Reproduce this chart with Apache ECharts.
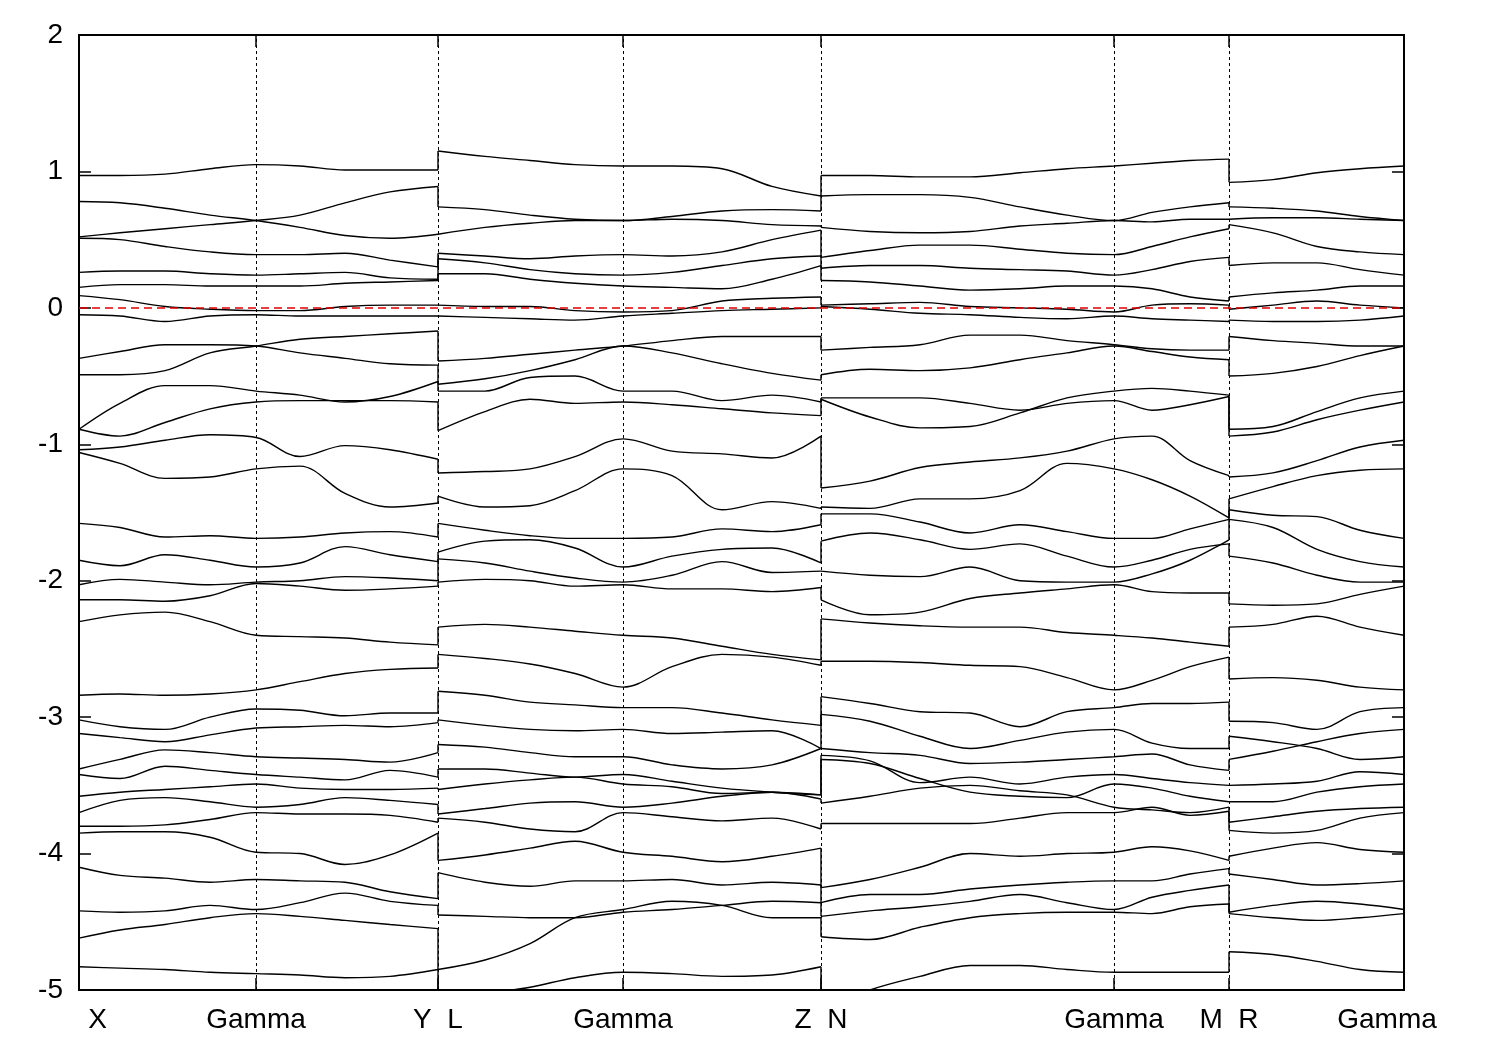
<!DOCTYPE html>
<html><head><meta charset="utf-8">
<script src="https://cdn.jsdelivr.net/npm/echarts@6/dist/echarts.min.js"></script>
<style>html,body{margin:0;padding:0;background:#fff}#c{width:1500px;height:1050px}</style>
</head><body><div id="c"></div>
<script>
// k-path distances of sampled points per continuous segment
const kSeg1 = [0, 41, 86, 131, 177, 221, 266, 311, 359];          // X - Gamma - Y
const kSeg2 = [359, 406, 451, 496, 544, 593, 643, 693, 742];      // L - Gamma - Z
const kSeg3 = [742, 791, 841, 891, 941, 988, 1035, 1073, 1111, 1150]; // N - Gamma - M
const kSeg4 = [1150, 1194, 1238, 1281, 1325];                     // R - Gamma

// high-symmetry points and their labels
const kPoints = [0, 177, 359, 544, 742, 1035, 1150, 1325];
const kLabels = ['X', 'Gamma', 'Y  L', 'Gamma', 'Z  N', 'Gamma', 'M  R', 'Gamma'];
const yTicks = [-5, -4, -3, -2, -1, 0, 1, 2];
const fermiLevel = 0;

// band energies (eV) per segment
const bandsSeg1 = [
  [0.97, 0.97, 0.98, 1.02, 1.05, 1.04, 1.01, 1.01, 1.01],
  [0.78, 0.77, 0.73, 0.68, 0.64, 0.59, 0.53, 0.51, 0.54],
  [0.52, 0.55, 0.58, 0.61, 0.64, 0.68, 0.77, 0.85, 0.89],
  [0.51, 0.50, 0.45, 0.41, 0.39, 0.39, 0.40, 0.35, 0.30],
  [0.26, 0.27, 0.27, 0.25, 0.24, 0.25, 0.26, 0.22, 0.21],
  [0.15, 0.17, 0.17, 0.16, 0.16, 0.16, 0.18, 0.19, 0.20],
  [0.09, 0.06, 0.01, -0.01, -0.02, -0.02, 0.01, 0.02, 0.02],
  [-0.05, -0.06, -0.10, -0.06, -0.05, -0.06, -0.06, -0.06, -0.06],
  [-0.37, -0.32, -0.27, -0.27, -0.28, -0.33, -0.37, -0.41, -0.42],
  [-0.49, -0.49, -0.46, -0.33, -0.28, -0.23, -0.21, -0.19, -0.17],
  [-0.89, -0.70, -0.57, -0.57, -0.61, -0.64, -0.69, -0.65, -0.54],
  [-0.89, -0.94, -0.84, -0.74, -0.69, -0.68, -0.68, -0.68, -0.69],
  [-1.04, -1.02, -0.97, -0.93, -0.95, -1.09, -1.01, -1.04, -1.11],
  [-1.06, -1.14, -1.25, -1.24, -1.18, -1.16, -1.36, -1.46, -1.43],
  [-1.58, -1.61, -1.68, -1.67, -1.69, -1.68, -1.65, -1.64, -1.68],
  [-1.85, -1.89, -1.81, -1.85, -1.90, -1.87, -1.75, -1.81, -1.86],
  [-2.03, -1.99, -2.01, -2.03, -2.01, -2.00, -1.97, -1.98, -2.00],
  [-2.14, -2.14, -2.15, -2.11, -2.02, -2.04, -2.07, -2.06, -2.04],
  [-2.30, -2.25, -2.23, -2.30, -2.40, -2.41, -2.42, -2.45, -2.47],
  [-2.84, -2.83, -2.84, -2.83, -2.80, -2.74, -2.68, -2.65, -2.64],
  [-3.02, -3.07, -3.09, -3.00, -2.94, -2.95, -2.99, -2.97, -2.97],
  [-3.12, -3.15, -3.18, -3.13, -3.08, -3.07, -3.06, -3.07, -3.04],
  [-3.38, -3.31, -3.24, -3.26, -3.29, -3.30, -3.31, -3.33, -3.26],
  [-3.42, -3.45, -3.36, -3.39, -3.42, -3.44, -3.46, -3.39, -3.44],
  [-3.58, -3.55, -3.53, -3.51, -3.49, -3.52, -3.53, -3.53, -3.52],
  [-3.70, -3.61, -3.59, -3.62, -3.66, -3.64, -3.59, -3.61, -3.64],
  [-3.80, -3.80, -3.79, -3.75, -3.70, -3.71, -3.71, -3.72, -3.77],
  [-3.85, -3.84, -3.84, -3.88, -3.99, -4.00, -4.08, -4.01, -3.85],
  [-4.10, -4.16, -4.18, -4.21, -4.19, -4.20, -4.21, -4.28, -4.33],
  [-4.42, -4.43, -4.42, -4.38, -4.41, -4.36, -4.29, -4.35, -4.38],
  [-4.62, -4.56, -4.52, -4.47, -4.44, -4.46, -4.49, -4.52, -4.55],
  [-4.83, -4.84, -4.85, -4.87, -4.88, -4.89, -4.91, -4.90, -4.85]
];
const bandsSeg2 = [
  [1.15, 1.11, 1.08, 1.05, 1.04, 1.04, 1.02, 0.89, 0.82],
  [0.74, 0.72, 0.68, 0.65, 0.64, 0.67, 0.71, 0.72, 0.71],
  [0.54, 0.59, 0.62, 0.64, 0.64, 0.65, 0.64, 0.61, 0.60],
  [0.40, 0.38, 0.36, 0.38, 0.39, 0.38, 0.41, 0.50, 0.57],
  [0.36, 0.33, 0.28, 0.25, 0.24, 0.26, 0.31, 0.36, 0.38],
  [0.25, 0.25, 0.21, 0.18, 0.16, 0.15, 0.14, 0.21, 0.31],
  [0.02, 0.01, 0.01, -0.02, -0.03, -0.02, 0.05, 0.07, 0.08],
  [-0.06, -0.07, -0.08, -0.09, -0.06, -0.04, -0.02, -0.01, 0.00],
  [-0.39, -0.37, -0.34, -0.31, -0.28, -0.24, -0.21, -0.21, -0.21],
  [-0.56, -0.52, -0.46, -0.38, -0.28, -0.33, -0.41, -0.48, -0.53],
  [-0.61, -0.61, -0.51, -0.50, -0.61, -0.61, -0.68, -0.64, -0.69],
  [-0.90, -0.76, -0.67, -0.70, -0.69, -0.71, -0.74, -0.77, -0.79],
  [-1.21, -1.20, -1.18, -1.09, -0.96, -1.05, -1.07, -1.10, -0.94],
  [-1.38, -1.46, -1.45, -1.34, -1.18, -1.23, -1.48, -1.42, -1.47],
  [-1.58, -1.63, -1.67, -1.69, -1.69, -1.68, -1.62, -1.64, -1.59],
  [-1.79, -1.71, -1.70, -1.76, -1.90, -1.82, -1.77, -1.76, -1.87],
  [-1.84, -1.87, -1.93, -1.98, -2.01, -1.96, -1.86, -1.94, -1.93],
  [-2.01, -1.99, -2.00, -2.04, -2.03, -2.06, -2.06, -2.08, -2.05],
  [-2.34, -2.32, -2.34, -2.37, -2.40, -2.42, -2.48, -2.54, -2.58],
  [-2.54, -2.57, -2.61, -2.68, -2.78, -2.63, -2.54, -2.56, -2.62],
  [-2.81, -2.84, -2.89, -2.91, -2.93, -2.93, -2.97, -3.02, -3.06],
  [-3.02, -3.06, -3.09, -3.10, -3.09, -3.12, -3.11, -3.10, -3.23],
  [-3.20, -3.22, -3.26, -3.29, -3.29, -3.35, -3.38, -3.35, -3.23],
  [-3.38, -3.38, -3.41, -3.44, -3.42, -3.47, -3.52, -3.55, -3.57],
  [-3.53, -3.49, -3.46, -3.44, -3.49, -3.51, -3.56, -3.55, -3.57],
  [-3.71, -3.67, -3.63, -3.62, -3.66, -3.63, -3.58, -3.55, -3.60],
  [-3.74, -3.77, -3.82, -3.84, -3.70, -3.73, -3.76, -3.74, -3.82],
  [-4.05, -4.01, -3.96, -3.91, -3.99, -4.02, -4.06, -4.02, -3.96],
  [-4.14, -4.21, -4.24, -4.20, -4.20, -4.19, -4.23, -4.21, -4.23],
  [-4.45, -4.46, -4.47, -4.47, -4.43, -4.41, -4.38, -4.35, -4.36],
  [-4.85, -4.78, -4.66, -4.47, -4.41, -4.35, -4.38, -4.47, -4.47],
  [-5.10, -5.03, -4.98, -4.91, -4.87, -4.88, -4.90, -4.89, -4.83]
];
const bandsSeg3 = [
  [0.97, 0.97, 0.96, 0.96, 0.99, 1.02, 1.04, 1.06, 1.08, 1.09],
  [0.82, 0.83, 0.83, 0.81, 0.74, 0.68, 0.64, 0.70, 0.74, 0.77],
  [0.59, 0.56, 0.55, 0.56, 0.60, 0.62, 0.64, 0.63, 0.65, 0.65],
  [0.37, 0.42, 0.46, 0.46, 0.43, 0.40, 0.39, 0.45, 0.52, 0.58],
  [0.29, 0.31, 0.31, 0.29, 0.28, 0.27, 0.24, 0.28, 0.34, 0.37],
  [0.20, 0.19, 0.16, 0.13, 0.14, 0.16, 0.16, 0.14, 0.08, 0.05],
  [0.02, 0.03, 0.04, 0.01, 0.00, -0.01, -0.03, 0.02, 0.03, 0.02],
  [0.01, -0.01, -0.04, -0.05, -0.07, -0.08, -0.06, -0.08, -0.09, -0.10],
  [-0.31, -0.29, -0.27, -0.20, -0.20, -0.24, -0.27, -0.30, -0.31, -0.31],
  [-0.49, -0.45, -0.46, -0.44, -0.38, -0.33, -0.28, -0.32, -0.36, -0.38],
  [-0.66, -0.66, -0.66, -0.70, -0.75, -0.70, -0.68, -0.75, -0.71, -0.65],
  [-0.67, -0.80, -0.88, -0.87, -0.77, -0.66, -0.61, -0.59, -0.61, -0.64],
  [-1.32, -1.27, -1.17, -1.13, -1.10, -1.05, -0.96, -0.94, -1.12, -1.23],
  [-1.46, -1.47, -1.40, -1.40, -1.34, -1.14, -1.18, -1.26, -1.38, -1.54],
  [-1.51, -1.51, -1.57, -1.65, -1.59, -1.64, -1.69, -1.69, -1.62, -1.55],
  [-1.71, -1.65, -1.70, -1.77, -1.73, -1.82, -1.90, -1.85, -1.77, -1.73],
  [-1.93, -1.96, -1.97, -1.90, -2.00, -2.01, -2.01, -1.95, -1.85, -1.70],
  [-2.14, -2.25, -2.23, -2.13, -2.09, -2.06, -2.03, -2.08, -2.09, -2.09],
  [-2.28, -2.31, -2.33, -2.34, -2.34, -2.38, -2.40, -2.42, -2.45, -2.48],
  [-2.59, -2.59, -2.60, -2.62, -2.63, -2.71, -2.80, -2.73, -2.63, -2.56],
  [-2.85, -2.90, -2.96, -2.97, -3.07, -2.96, -2.93, -2.90, -2.90, -2.89],
  [-2.98, -3.03, -3.14, -3.23, -3.17, -3.11, -3.09, -3.19, -3.23, -3.23],
  [-3.23, -3.26, -3.28, -3.34, -3.33, -3.31, -3.29, -3.27, -3.35, -3.39],
  [-3.28, -3.32, -3.48, -3.44, -3.49, -3.44, -3.42, -3.45, -3.48, -3.50],
  [-3.31, -3.34, -3.45, -3.55, -3.58, -3.59, -3.49, -3.52, -3.58, -3.62],
  [-3.63, -3.58, -3.52, -3.50, -3.54, -3.57, -3.66, -3.68, -3.70, -3.66],
  [-3.78, -3.78, -3.78, -3.78, -3.74, -3.70, -3.70, -3.66, -3.72, -3.69],
  [-4.25, -4.19, -4.10, -4.00, -4.02, -4.00, -3.99, -3.95, -3.98, -4.05],
  [-4.36, -4.30, -4.30, -4.26, -4.23, -4.21, -4.20, -4.20, -4.15, -4.11],
  [-4.46, -4.42, -4.39, -4.35, -4.30, -4.36, -4.41, -4.32, -4.27, -4.23],
  [-4.61, -4.63, -4.54, -4.47, -4.44, -4.43, -4.43, -4.44, -4.39, -4.37],
  [-5.15, -5.00, -4.90, -4.82, -4.82, -4.85, -4.87, -4.87, -4.87, -4.87]
];
const bandsSeg4 = [
  [0.92, 0.94, 0.99, 1.02, 1.04],
  [0.74, 0.73, 0.71, 0.67, 0.64],
  [0.65, 0.66, 0.66, 0.65, 0.64],
  [0.61, 0.55, 0.45, 0.41, 0.39],
  [0.31, 0.33, 0.33, 0.28, 0.24],
  [0.08, 0.11, 0.13, 0.16, 0.16],
  [-0.01, 0.02, 0.05, 0.02, 0.00],
  [-0.09, -0.10, -0.10, -0.09, -0.06],
  [-0.21, -0.24, -0.26, -0.28, -0.28],
  [-0.50, -0.48, -0.43, -0.35, -0.28],
  [-0.89, -0.87, -0.76, -0.66, -0.61],
  [-0.94, -0.91, -0.82, -0.75, -0.69],
  [-1.24, -1.21, -1.12, -1.02, -0.97],
  [-1.40, -1.31, -1.23, -1.19, -1.18],
  [-1.48, -1.52, -1.53, -1.63, -1.69],
  [-1.55, -1.61, -1.77, -1.86, -1.90],
  [-1.82, -1.87, -1.96, -2.01, -2.01],
  [-2.17, -2.18, -2.17, -2.10, -2.04],
  [-2.34, -2.32, -2.26, -2.34, -2.40],
  [-2.72, -2.71, -2.73, -2.78, -2.80],
  [-3.03, -3.04, -3.09, -2.96, -2.93],
  [-3.14, -3.18, -3.23, -3.31, -3.29],
  [-3.31, -3.25, -3.18, -3.12, -3.09],
  [-3.50, -3.49, -3.47, -3.40, -3.42],
  [-3.62, -3.62, -3.55, -3.51, -3.49],
  [-3.77, -3.73, -3.69, -3.67, -3.66],
  [-3.83, -3.85, -3.83, -3.74, -3.70],
  [-4.02, -3.96, -3.92, -3.97, -3.99],
  [-4.15, -4.19, -4.23, -4.22, -4.20],
  [-4.43, -4.38, -4.35, -4.37, -4.41],
  [-4.44, -4.47, -4.49, -4.47, -4.44],
  [-4.72, -4.74, -4.79, -4.85, -4.87]
];

const segments = [
  { k: kSeg1, bands: bandsSeg1 },
  { k: kSeg2, bands: bandsSeg2 },
  { k: kSeg3, bands: bandsSeg3 },
  { k: kSeg4, bands: bandsSeg4 }
];

const FONT = 'Liberation Sans, Arial, Helvetica, sans-serif';
const series = [];
const mkBandStyle = () => ({ color: '#000', width: 1.4 });

segments.forEach(seg => {
  seg.bands.forEach(band => {
    series.push({
      type: 'line', data: band.map((v, i) => [seg.k[i], v]),
      smooth: 0.35, symbol: 'none', silent: true, animation: false,
      lineStyle: mkBandStyle(), z: 3
    });
  });
});

// vertical jumps at discontinuities of the path
for (let s = 0; s < segments.length - 1; s++) {
  const a = segments[s], b = segments[s + 1];
  const kx = a.k[a.k.length - 1];
  const ends = a.bands.map(r => r[r.length - 1]).sort((p, q) => q - p);
  const starts = b.bands.map(r => r[0]).sort((p, q) => q - p);
  const n = Math.min(ends.length, starts.length);
  for (let i = 0; i < n; i++) {
    series.push({
      type: 'line', data: [[kx, ends[i]], [kx, starts[i]]],
      symbol: 'none', silent: true, animation: false, lineStyle: mkBandStyle(), z: 3
    });
  }
}

// dotted verticals at high-symmetry points
series.push({
  type: 'line', data: [], silent: true, animation: false, z: 2,
  markLine: {
    symbol: 'none', silent: true, animation: false, label: { show: false },
    lineStyle: { color: '#000', type: [3, 3], width: 1 },
    data: kPoints.slice(1, -1).map(k => ({ xAxis: k }))
  }
});
// Fermi level
series.push({
  type: 'line', data: [], silent: true, animation: false, z: 5,
  markLine: {
    symbol: 'none', silent: true, animation: false, label: { show: false },
    lineStyle: { color: '#e00000', type: [8, 5], width: 1.5 },
    data: [{ yAxis: fermiLevel }]
  }
});

const labelFmt = (v) => {
  const i = kPoints.indexOf(v);
  if (i < 0) return '';
  if (i === 0) return '{first|' + kLabels[i] + '}';
  if (i === kPoints.length - 1) return '{last|' + kLabels[i] + '}';
  return kLabels[i];
};
const richBase = () => ({ fontSize: 28, fontFamily: FONT, color: '#000' });
const mkTick = (custom) => {
  const t = { show: true, inside: true, length: 12, lineStyle: { color: '#000', width: 1.5 } };
  if (custom) t.customValues = custom;
  return t;
};
const mkLine = () => ({ show: true, onZero: false, lineStyle: { color: '#000', width: 2 } });

const option = {
  backgroundColor: '#fff',
  animation: false,
  grid: { left: 79, right: 96, top: 35, bottom: 60, show: true, borderColor: '#000', borderWidth: 2, backgroundColor: 'transparent' },
  xAxis: [
    {
      type: 'value', min: 0, max: 1325, position: 'bottom',
      axisLine: mkLine(), splitLine: { show: false },
      axisTick: mkTick(kPoints),
      axisLabel: {
        customValues: kPoints, formatter: labelFmt, margin: 16,
        fontSize: 28, fontFamily: FONT, color: '#000', showMinLabel: true, showMaxLabel: true,
        rich: {
          first: Object.assign({ padding: [0, 0, 0, 37] }, richBase()),
          last: Object.assign({ padding: [0, 34, 0, 0] }, richBase())
        }
      }
    },
    {
      type: 'value', min: 0, max: 1325, position: 'top',
      axisLine: mkLine(), splitLine: { show: false },
      axisTick: mkTick(kPoints),
      axisLabel: { show: false }
    }
  ],
  yAxis: [
    {
      type: 'value', min: -5, max: 2, interval: 1, position: 'left',
      axisLine: mkLine(), splitLine: { show: false },
      axisTick: mkTick(null),
      axisLabel: { margin: 16, fontSize: 28, fontFamily: FONT, color: '#000', formatter: v => String(v) }
    },
    {
      type: 'value', min: -5, max: 2, interval: 1, position: 'right',
      axisLine: mkLine(), splitLine: { show: false },
      axisTick: mkTick(null), axisLabel: { show: false }
    }
  ],
  series: series
};

const chart = echarts.init(document.getElementById('c'), null, { renderer: 'canvas' });
chart.setOption(option);
</script>
</body></html>
